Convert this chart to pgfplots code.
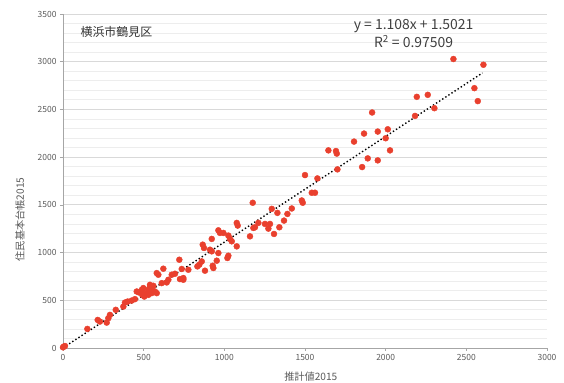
\documentclass[border=0pt]{standalone}
\usepackage{pgfplots}
\pgfplotsset{compat=1.18}
\usepackage{fontspec}
\setmainfont{Noto Sans CJK JP}
\definecolor{pt}{RGB}{233,64,46}
\definecolor{tk}{RGB}{89,89,89}
\begin{document}
\begin{tikzpicture}
\begin{axis}[
  scale only axis, width=484bp, height=334bp,
  xmin=0, xmax=3000, ymin=0, ymax=3500,
  xtick={0,500,...,3000}, ytick={0,500,...,3500},
  minor y tick num=4,
  axis lines=left, axis line style={-, color=black!35, line width=0.8pt},
  tick align=outside, major tick length=3bp, minor tick length=0pt,
  tick style={color=black!35, line width=0.6pt},
  ymajorgrids, yminorgrids,
  major grid style={color=black!15, line width=1pt},
  minor grid style={color=black!7, line width=0.8pt},
  /pgf/number format/1000 sep={},
  /pgf/number format/assume math mode=true,
  ticklabel style={font=\fontsize{8.5}{9}\selectfont, color=tk},
  xlabel={推計値2015}, ylabel={住民基本台帳2015},
  label style={font=\fontsize{10.2}{11}\selectfont, color=tk},
  xlabel style={at={(axis description cs:0.512,-0.087)}, anchor=center},
  ylabel style={at={(axis description cs:-0.089,0.385)}, anchor=center},
  clip=false,
]
\addplot[only marks, mark=*, mark size=3pt, color=pt, mark options={draw=pt, fill=pt}] coordinates {
(0,7) (5,15) (12,21) (151,200) (215,294) (229,277) (271,266) (281,312) (291,347)
(327,400) (374,434) (384,476) (401,487) (426,497) (446,512) (457,592) (471,582)
(488,610) (492,557) (498,628) (504,539) (519,575) (529,557) (529,610) (539,645)
(539,662) (550,617) (550,575) (560,652) (570,592) (581,575) (488,592) (581,785)
(591,768) (612,680) (622,831) (643,687) (653,715) (674,768) (694,778) (721,925)
(725,722) (736,828) (746,733) (746,715) (777,820) (833,855) (845,873) (860,907)
(866,1083) (874,1048) (880,810) (911,1030) (922,1013) (922,1143) (928,862) (932,838)
(953,915) (963,995) (963,1233) (973,1206) (994,1206) (1019,943) (1025,967) (1025,1178)
(1035,1143) (1046,1118) (1077,1065) (1077,1311) (1083,1283) (1159,1170) (1176,1522)
(1180,1258) (1190,1265) (1211,1311) (1252,1300) (1273,1251) (1283,1300) (1294,1458)
(1308,1195) (1329,1416) (1341,1265) (1370,1335) (1391,1405) (1418,1462) (1480,1546)
(1486,1522) (1500,1812) (1542,1627) (1562,1627) (1577,1777) (1645,2071) (1692,2064)
(1697,2037) (1701,1872) (1804,2163) (1854,1896) (1866,2247) (1889,1987) (1916,2468)
(1951,2268) (1951,1966) (2000,2198) (2013,2292) (2027,2071) (2182,2432) (2193,2632)
(2261,2653) (2302,2513) (2420,3028) (2550,2723) (2571,2587) (2606,2968)
};
\addplot[black, line width=1.4pt, dash pattern=on 1.4pt off 2.3pt] coordinates {(0,1.5) (2600,2882.3)};
\node[anchor=west, font=\fontsize{12}{13}\selectfont, color=black!80] at (axis cs:87,3312) {横浜市鶴見区};
\node[align=center, font=\fontsize{14}{18}\selectfont, color=black!75] at (axis cs:2173,3291) {y = 1.108x + 1.5021\\R\textsuperscript{2} = 0.97509};
\end{axis}
\pgfresetboundingbox
\path ([shift={(-63bp,-35bp)}]current axis.south west) rectangle ([shift={(17bp,14bp)}]current axis.north east);
\end{tikzpicture}
\end{document}
